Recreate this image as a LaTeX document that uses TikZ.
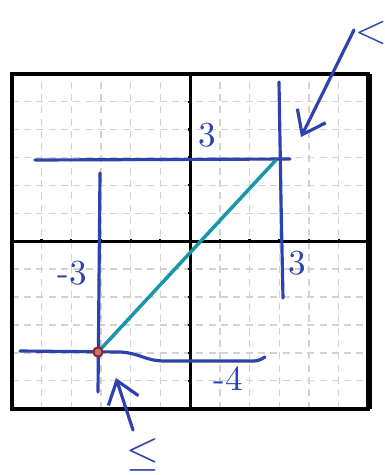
\documentclass[tikz,border=0pt]{standalone}
\usetikzlibrary{arrows.meta}
\definecolor{pen}{RGB}{45,65,175}
\definecolor{teal2}{RGB}{25,150,170}
\definecolor{dotred}{RGB}{150,35,45}
\tikzset{
  gridline/.style={gray!35, dash pattern=on 2pt off 1.5pt, line width=0.4pt},
  penline/.style={pen, line width=0.9pt, line cap=round},
  penlabel/.style={text=pen, font=\fontsize{10}{11}\selectfont},
  penarrow/.style={pen, line width=0.9pt, line cap=round, -{Straight Barb[length=6pt,width=9pt,line width=0.9pt]}},
}
\begin{document}
\begin{tikzpicture}[x=0.01cm,y=-0.01cm]
\useasboundingbox (0,0) rectangle (385,475);
\begin{scope}[shift={(1.9cm,-2.41cm)}, x=0.297cm, y=0.279cm]
  \foreach \i in {-5,...,5} {
    \draw[gridline] (\i,-6) -- (\i,6);
    \draw[gridline] (-6,\i) -- (6,\i);
  }
  \draw[line width=0.8pt] (-6,0) -- (6,0);
  \draw[line width=0.8pt] (0,-6) -- (0,6);
  \foreach \i in {-5,...,5} {
    \draw[line width=0.6pt] (\i,-0.08) -- (\i,0.08);
    \draw[line width=0.6pt] (-0.08,\i) -- (0.08,\i);
  }
  \draw[line width=1.1pt] (-6,-6) rectangle (6,6);
  \draw[line width=1.8pt] (6.02,-6) -- (6.02,6);
\end{scope}
% handwritten blue lines
\draw[penline] (35,160) -- (290,159);
\draw[penline] (279,82) -- (281,200) -- (283,298);
\draw[penline] (100,173) -- (98,392);
\draw[penline] (20,351) -- (120,352) .. controls (140,353) and (145,361) .. (165,361) -- (250,361) .. controls (258,361) .. (265,357);
% teal segment
\coordinate (p1) at (98,352);
\coordinate (p2) at (276,160);
\draw[teal2, line width=1pt] (p1) -- (p2);
\node[circle, draw=dotred, fill=dotred!60, line width=0.6pt, minimum size=2.6pt, inner sep=0pt] (dot) at (p1) {};
% arrows
\coordinate (a1s) at (354,30);
\coordinate (a1e) at (301,137);
\draw[penarrow] (a1s) -- (a1e);
\coordinate (a2s) at (133,430);
\coordinate (a2e) at (116,378);
\draw[penarrow] (a2s) -- (a2e);
% labels
\node[penlabel] (l3a) at (207,135) {3};
\node[penlabel] (l3b) at (297,263) {3};
\node[penlabel] (lm3) at (72,273) {-3};
\node[penlabel] (lm4) at (228,379) {-4};
\node[penlabel, font=\fontsize{13}{14}\selectfont] (llt) at (371,33) {$<$};
\node[penlabel, font=\fontsize{13}{14}\selectfont] (lle) at (143,455) {$\leq$};
\end{tikzpicture}
\end{document}
